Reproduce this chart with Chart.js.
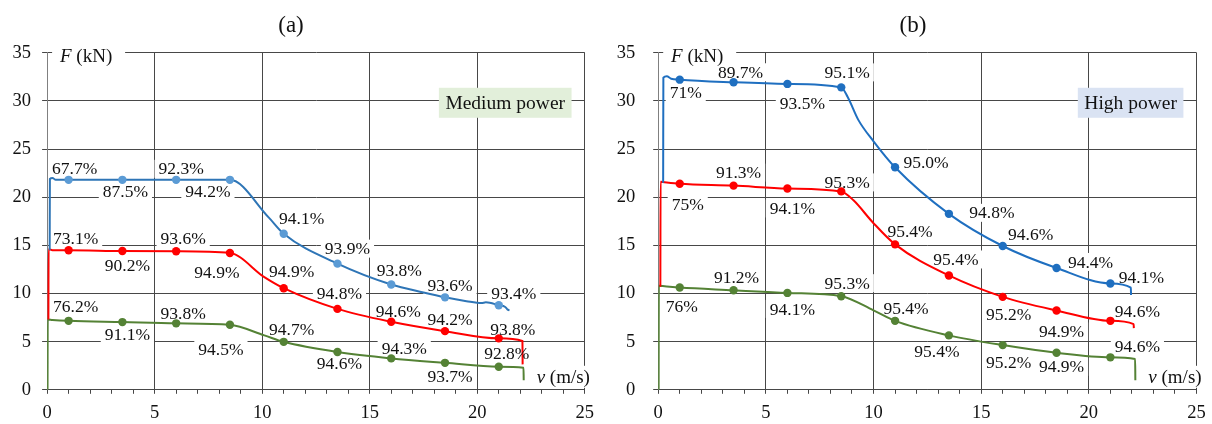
<!DOCTYPE html>
<html><head><meta charset="utf-8">
<script src="https://cdn.jsdelivr.net/npm/chart.js@4/dist/chart.umd.min.js"></script>
<style>
html,body{margin:0;padding:0;background:#fff;}
#wrap{position:relative;width:1212px;height:424px;overflow:hidden;}
.c{position:absolute;top:0;width:606px;height:424px;}
</style></head><body>
<div id="wrap">
<div class="c" style="left:0"><canvas id="ca" width="606" height="424"></canvas></div>
<div class="c" style="left:606px"><canvas id="cb" width="606" height="424"></canvas></div>
</div>
<script>
// ---------- data ----------
const panelTitles = ['(a)', '(b)'];
const boxTexts = ['Medium power', 'High power'];
const yAxisTitle = ['F', ' (kN)'];
const xAxisTitle = ['v', ' (m/s)'];
const xTickValues = [0, 5, 10, 15, 20, 25];
const yTickValues = [0, 5, 10, 15, 20, 25, 30, 35];

// speeds (m/s) of the marked operating points
const markerV = [1, 3.5, 6, 8.5, 11, 13.5, 16, 18.5, 21];

// (a) Medium power - force at marked points (kN)
const medBlueF  = [21.8, 21.8, 21.8, 21.8, 16.2, 13.1, 10.93, 9.6, 8.78];
const medRedF   = [14.49, 14.41, 14.38, 14.2, 10.55, 8.4, 7.06, 6.09, 5.34];
const medGreenF = [7.16, 7.03, 6.9, 6.75, 4.98, 3.92, 3.26, 2.8, 2.39];
// (a) efficiencies
const medBlueEff  = ['67.7%', '87.5%', '92.3%', '94.2%', '94.1%', '93.9%', '93.8%', '93.6%', '93.4%'];
const medRedEff   = ['73.1%', '90.2%', '93.6%', '94.9%', '94.9%', '94.8%', '94.6%', '94.2%', '93.8%'];
const medGreenEff = ['76.2%', '91.1%', '93.8%', '94.5%', '94.7%', '94.6%', '94.3%', '93.7%', '92.8%'];
// (a) full curves
const medBlueCurveV  = [0.12, 0.13, 0.25, 0.4, 1, 3.5, 6, 8.5, 10.3, 11, 13.5, 16, 17.5, 18.5, 19.5, 20.2, 20.4, 21, 21.3, 21.4, 21.5];
const medBlueCurveF  = [14.5, 21.9, 22.0, 21.8, 21.8, 21.8, 21.8, 21.8, 17.9, 16.2, 13.1, 10.93, 10.1, 9.6, 9.2, 9.0, 9.08, 8.78, 8.6, 8.35, 8.25];
const medRedCurveV   = [0.06, 0.07, 0.25, 1, 3.5, 6, 8.5, 10.1, 11, 13.5, 16, 18.5, 21, 22.1, 22.11];
const medRedCurveF   = [7.3, 14.6, 14.5, 14.49, 14.41, 14.38, 14.2, 11.7, 10.55, 8.4, 7.06, 6.09, 5.34, 5.06, 2.64];
const medGreenCurveV = [0.02, 0.03, 0.25, 1, 3.5, 6, 8.5, 10.1, 11, 13.5, 16, 18.5, 21, 22.15, 22.16];
const medGreenCurveF = [0, 7.3, 7.25, 7.16, 7.03, 6.9, 6.75, 5.65, 4.98, 3.92, 3.26, 2.8, 2.39, 2.29, 1.0];

// (b) High power - force at marked points (kN)
const highBlueF  = [32.2, 31.93, 31.76, 31.4, 23.1, 18.27, 14.93, 12.65, 11.04];
const highRedF   = [21.4, 21.2, 20.9, 20.6, 15.1, 11.87, 9.65, 8.24, 7.16];
const highGreenF = [10.62, 10.34, 10.06, 9.72, 7.16, 5.65, 4.64, 3.84, 3.37];
// (b) efficiencies
const highBlueEff  = ['71%', '89.7%', '93.5%', '95.1%', '95.0%', '94.8%', '94.6%', '94.4%', '94.1%'];
const highRedEff   = ['75%', '91.3%', '94.1%', '95.3%', '95.4%', '95.4%', '95.2%', '94.9%', '94.6%'];
const highGreenEff = ['76%', '91.2%', '94.1%', '95.3%', '95.4%', '95.4%', '95.2%', '94.9%', '94.6%'];
// (b) full curves
const highBlueCurveV  = [0.23, 0.24, 0.4, 0.6, 1, 3.5, 6, 8.5, 8.8, 9.3, 10.0, 11, 13.5, 16, 18.5, 21, 21.95, 21.96];
const highBlueCurveF  = [21.5, 32.4, 32.55, 32.3, 32.2, 31.93, 31.76, 31.4, 30.4, 28.0, 25.8, 23.1, 18.27, 14.93, 12.65, 11.04, 10.6, 9.85];
const highRedCurveV   = [0.1, 0.11, 0.3, 1, 3.5, 6, 8.5, 9.07, 9.96, 11, 13.5, 16, 18.5, 21, 22.08, 22.09];
const highRedCurveF   = [10.7, 21.6, 21.55, 21.4, 21.2, 20.9, 20.6, 19.67, 17.4, 15.1, 11.87, 9.65, 8.24, 7.16, 6.82, 6.4];
const highGreenCurveV = [0.02, 0.03, 0.3, 1, 3.5, 6, 8.5, 10, 11, 13.5, 16, 18.5, 21, 22.15, 22.16];
const highGreenCurveF = [0, 10.8, 10.75, 10.62, 10.34, 10.06, 9.72, 8.25, 7.16, 5.65, 4.64, 3.84, 3.37, 3.2, 1.0];

// ---------- label placement (pixel offsets from marker, style only) ----------
const medBluePos   = [[6,-11],[3,12],[5,-11],[-22,12],[18,-15],[10,-15],[8,-14],[5,-12],[15,-12]];
const medRedPos    = [[7,-12],[5,14],[7,-13],[-13,19],[8,-17],[2,-15],[7,-10],[5,-12],[14,-9]];
const medGreenPos  = [[7,-14],[5,12],[7,-10],[-9,25],[8,-12],[2,11],[13,-10],[5,14],[8,-13]];
const highBluePos  = [[6,13],[7,-10],[15,20],[6,-15],[31,-5],[43,-1],[28,-12],[34,-6],[31,-6]];
const highRedPos   = [[8,21],[5,-13],[5,20],[6,-9],[15,-13],[7,-16],[6,18],[5,21],[27,-9]];
const highGreenPos = [[2,19],[3,-13],[5,16],[6,-13],[11,-12],[-12,16],[6,17],[5,14],[27,-11]];

// ---------- styles ----------
const SERIF = '"Liberation Serif", "Times New Roman", serif';
Chart.defaults.font.family = SERIF;
const GRID = '#474747';
const AXISY = '#808080';

function xy(V, F) { return V.map((v, i) => ({x: v, y: F[i]})); }

const annot = {
  id: 'annot',
  beforeDatasetsDraw(chart, args, o) {
    const {ctx, scales: {x, y}} = chart;
    ctx.save();
    ctx.fillStyle = '#fff';
    ctx.font = '17.5px ' + SERIF;
    o.series.forEach(s => {
      s.eff.forEach((t, i) => {
        const px = x.getPixelForValue(markerV[i]) + s.pos[i][0];
        const py = y.getPixelForValue(s.marks[i]) + s.pos[i][1];
        const w = ctx.measureText(t).width;
        ctx.fillRect(px - w / 2 - 4, py - 9, w + 8, 18);
      });
    });
    // F (kN) box
    const fx = x.getPixelForValue(0) + 5;
    ctx.fillRect(fx, y.getPixelForValue(35) - 12, 73, 24);
    // v (m/s) box
    const vx = x.getPixelForValue(o.vAt[0]), vy = y.getPixelForValue(o.vAt[1]);
    ctx.fillRect(vx - 30, vy - 11, 60, 22);
    // power box
    const bx = x.getPixelForValue(o.boxAt[0]), by = y.getPixelForValue(o.boxAt[1]);
    ctx.fillStyle = o.boxColor;
    ctx.font = '19.5px ' + SERIF;
    const bw = ctx.measureText(o.boxText).width + 13;
    ctx.fillRect(bx - bw / 2, by - 15, bw, 30);
    ctx.restore();
  },
  afterDatasetsDraw(chart, args, o) {
    const {ctx, scales: {x, y}} = chart;
    ctx.save();
    ctx.fillStyle = '#111';
    ctx.textAlign = 'center';
    ctx.textBaseline = 'middle';
    ctx.font = '17.5px ' + SERIF;
    o.series.forEach(s => {
      s.eff.forEach((t, i) => {
        const px = x.getPixelForValue(markerV[i]) + s.pos[i][0];
        const py = y.getPixelForValue(s.marks[i]) + s.pos[i][1];
        ctx.fillText(t, px, py + 1);
      });
    });
    // power box text
    ctx.font = '19.5px ' + SERIF;
    ctx.fillText(o.boxText, x.getPixelForValue(o.boxAt[0]), y.getPixelForValue(o.boxAt[1]) + 1);
    // axis titles
    ctx.textAlign = 'left';
    const drawTitle = (parts, px, py) => {
      ctx.font = 'italic 19px ' + SERIF;
      const w1 = ctx.measureText(parts[0]).width;
      ctx.font = '19px ' + SERIF;
      const w2 = ctx.measureText(parts[1]).width;
      let sx = px - (w1 + w2) / 2;
      ctx.font = 'italic 19px ' + SERIF;
      ctx.fillText(parts[0], sx, py);
      ctx.font = '19px ' + SERIF;
      ctx.fillText(parts[1], sx + w1, py);
    };
    drawTitle(yAxisTitle, x.getPixelForValue(0) + 39, y.getPixelForValue(35) + 4);
    drawTitle(xAxisTitle, x.getPixelForValue(o.vAt[0]), y.getPixelForValue(o.vAt[1]) + 1);
    ctx.restore();
  },
  afterDraw(chart, args, o) {
    const {ctx} = chart;
    ctx.save();
    ctx.fillStyle = '#111';
    ctx.textAlign = 'center';
    ctx.textBaseline = 'middle';
    ctx.font = '23px ' + SERIF;
    ctx.fillText(o.title, o.titleX, 26);
    ctx.restore();
  }
};

function makeChart(id, cfg) {
  const datasets = [];
  cfg.series.forEach(s => {
    datasets.push({
      data: xy(s.curveV, s.curveF), borderColor: s.line, borderWidth: 2,
      pointRadius: 0, cubicInterpolationMode: 'monotone', fill: false, order: 2
    });
    datasets.push({
      data: xy(markerV, s.marks), showLine: false, pointRadius: 4.2,
      pointBackgroundColor: s.mark, pointBorderWidth: 0, order: 1
    });
  });
  return new Chart(document.getElementById(id), {
    type: 'line',
    data: {datasets},
    plugins: [annot],
    options: {
      responsive: false, animation: false, devicePixelRatio: 1,
      layout: {padding: {top: 52.7, right: cfg.padRight, left: 0, bottom: 0}},
      plugins: {
        legend: {display: false}, tooltip: {enabled: false},
        annot: {
          series: cfg.series, boxText: cfg.boxText, boxColor: cfg.boxColor,
          boxAt: cfg.boxAt, vAt: [24.0, 1.35], title: cfg.title, titleX: cfg.titleX
        }
      },
      scales: {
        x: {
          type: 'linear', min: 0, max: 25,
          afterBuildTicks: s => { s.ticks = Array.from({length: 26}, (_, i) => ({value: i})); },
          ticks: {
            autoSkip: false, maxRotation: 0, padding: 8, color: '#111',
            font: {size: 18.5, family: SERIF},
            callback: v => xTickValues.includes(v) ? String(v) : ''
          },
          grid: {
            color: c => (c.tick && c.tick.value % 5 === 0) ? (c.tick.value === 0 ? AXISY : GRID) : 'rgba(0,0,0,0)',
            tickColor: GRID, tickLength: 4, lineWidth: 1
          },
          border: {color: GRID, width: 1},
          afterFit: s => { s.height = 424 - 389.8; s.paddingLeft = 0; s.paddingRight = 0; }
        },
        y: {
          type: 'linear', min: 0, max: 35,
          afterBuildTicks: s => { s.ticks = yTickValues.map(v => ({value: v})); },
          ticks: {padding: cfg.yPad, color: '#111', font: {size: 18.5, family: SERIF}},
          grid: {color: GRID, tickColor: GRID, tickLength: 5, lineWidth: 1},
          border: {color: AXISY, width: 1},
          afterFit: s => { s.width = cfg.yWidth; s.paddingTop = 0; s.paddingBottom = 0; }
        }
      }
    }
  });
}

makeChart('ca', {
  title: panelTitles[0], titleX: 291, boxText: boxTexts[0], boxColor: '#E2EFDA', boxAt: [21.3, 29.8],
  padRight: 606 - 584.8, yWidth: 47.1, yPad: 11,
  series: [
    {curveV: medBlueCurveV, curveF: medBlueCurveF, marks: medBlueF, eff: medBlueEff, pos: medBluePos, line: '#2E75B6', mark: '#5B9BD5'},
    {curveV: medRedCurveV, curveF: medRedCurveF, marks: medRedF, eff: medRedEff, pos: medRedPos, line: '#FF0000', mark: '#FF0000'},
    {curveV: medGreenCurveV, curveF: medGreenCurveF, marks: medGreenF, eff: medGreenEff, pos: medGreenPos, line: '#548235', mark: '#548235'}
  ]
});
makeChart('cb', {
  title: panelTitles[1], titleX: 307, boxText: boxTexts[1], boxColor: '#DAE3F3', boxAt: [21.94, 29.8],
  padRight: 606 - 590.5, yWidth: 52.2, yPad: 18,
  series: [
    {curveV: highBlueCurveV, curveF: highBlueCurveF, marks: highBlueF, eff: highBlueEff, pos: highBluePos, line: '#1F6FC0', mark: '#1F6FC0'},
    {curveV: highRedCurveV, curveF: highRedCurveF, marks: highRedF, eff: highRedEff, pos: highRedPos, line: '#FF0000', mark: '#FF0000'},
    {curveV: highGreenCurveV, curveF: highGreenCurveF, marks: highGreenF, eff: highGreenEff, pos: highGreenPos, line: '#548235', mark: '#548235'}
  ]
});
</script>
</body></html>
